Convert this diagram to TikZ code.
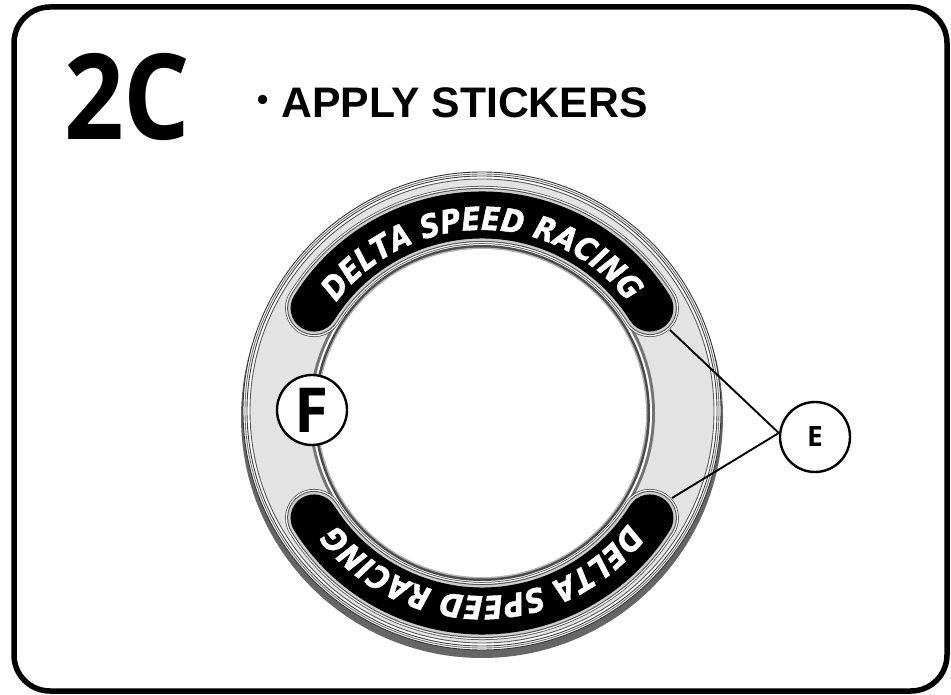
\documentclass[tikz,border=0pt]{standalone}
\usepackage{fontspec}
\setmainfont{Liberation Sans}
\newfontfamily\titlefont[FakeStretch=0.88]{Open Sans}
\newfontfamily\calloutfont{Open Sans}
\newfontfamily\stickerfont[FakeStretch=0.86, FakeBold=1.2]{DejaVu Sans}
\usetikzlibrary{positioning, decorations.text}
\definecolor{ringgray}{gray}{0.89}
\definecolor{shadegray}{gray}{0.40}
\tikzset{
    callout/.style={draw, circle, fill=white, line width=2.4pt, minimum size=70pt, inner sep=0pt},
    leader/.style={line width=1.9pt},
    band/.style={line cap=round, line width=#1},
    stickertext/.style={postaction={decorate, decoration={text along path, text align=center, text color=white,
        text={|\stickerfont\bfseries\itshape\fontsize{32}{32}\selectfont|DELTA SPEED RACING}}}}
}
\begin{document}
\begin{tikzpicture}[x=1pt, y=1pt]
    \useasboundingbox (0,0) rectangle (951,694);
    \fill[white] (0,0) rectangle (951,694);
    % frame
    \draw[line width=5.5pt, rounded corners=36pt] (14,3) rectangle (947,687);
    % titles
    \node[anchor=base west, inner sep=0pt, font=\titlefont\bfseries\fontsize{119}{119}\selectfont] (steplabel) at (64,554) {2C};
    \node[anchor=base west, inner sep=0pt, font=\bfseries\fontsize{42.7}{43}\selectfont] (steptitle) at (257,576)
        {\raisebox{7pt}{\fontsize{32}{32}\selectfont •}\hspace{13pt}APPLY STICKERS};
    % ring body
    \fill[shadegray] (482,277) circle (241pt);
    \fill[white] (482,283) circle (239pt);
    \fill[ringgray] (482,283) circle (232pt);
    \foreach \r/\c in {239/black!80, 237/black!55, 235/black!75, 232/black!65}
        \draw[draw=\c, line width=0.9pt] (482,283) circle (\r pt);
    % inner rim
    \fill[black!55] (482,281) circle (173pt);
    \fill[white] (482,281) circle (170pt);
    \fill[black!70] (482,281) circle (168pt);
    \fill[white!70!black] (482,281) circle (165.5pt);
    \fill[white] (482,281) circle (164pt);
    % sticker recesses
    \foreach \w/\c in {58/black!70, 56.5/white, 54/black!70, 52/gray!40} {
        \draw[band=\w pt, draw=\c] (482,281) ++(148:198pt) arc[start angle=148, end angle=32, radius=198pt];
        \draw[band=\w pt, draw=\c] (482,281) ++(-148:198pt) arc[start angle=-148, end angle=-32, radius=198pt];
    }
    % stickers
    \draw[band=47pt] (482,281) ++(148:198pt) arc[start angle=148, end angle=32, radius=198pt];
    \draw[band=47pt] (482,281) ++(-148:198pt) arc[start angle=-148, end angle=-32, radius=198pt];
    \path[stickertext] (482,281) ++(160:183pt) arc[start angle=160, end angle=20, radius=183pt];
    \path[stickertext] (482,281) ++(-20:183pt) arc[start angle=-20, end angle=-160, radius=183pt];
    % callouts
    \node[callout, font=\calloutfont\bfseries\fontsize{62}{62}\selectfont] (labelF) at (312,284) {F};
    \node[callout, font=\calloutfont\bfseries\fontsize{28}{28}\selectfont] (labelE) at (815,257) {E};
    \coordinate (stickerTop) at (670,364);
    \coordinate (stickerBottom) at (672,196);
    \coordinate (joinE) at ([yshift=4pt]labelE.west);
    \draw[leader] (joinE) -- (stickerTop);
    \draw[leader] (joinE) -- (stickerBottom);
\end{tikzpicture}
\end{document}
